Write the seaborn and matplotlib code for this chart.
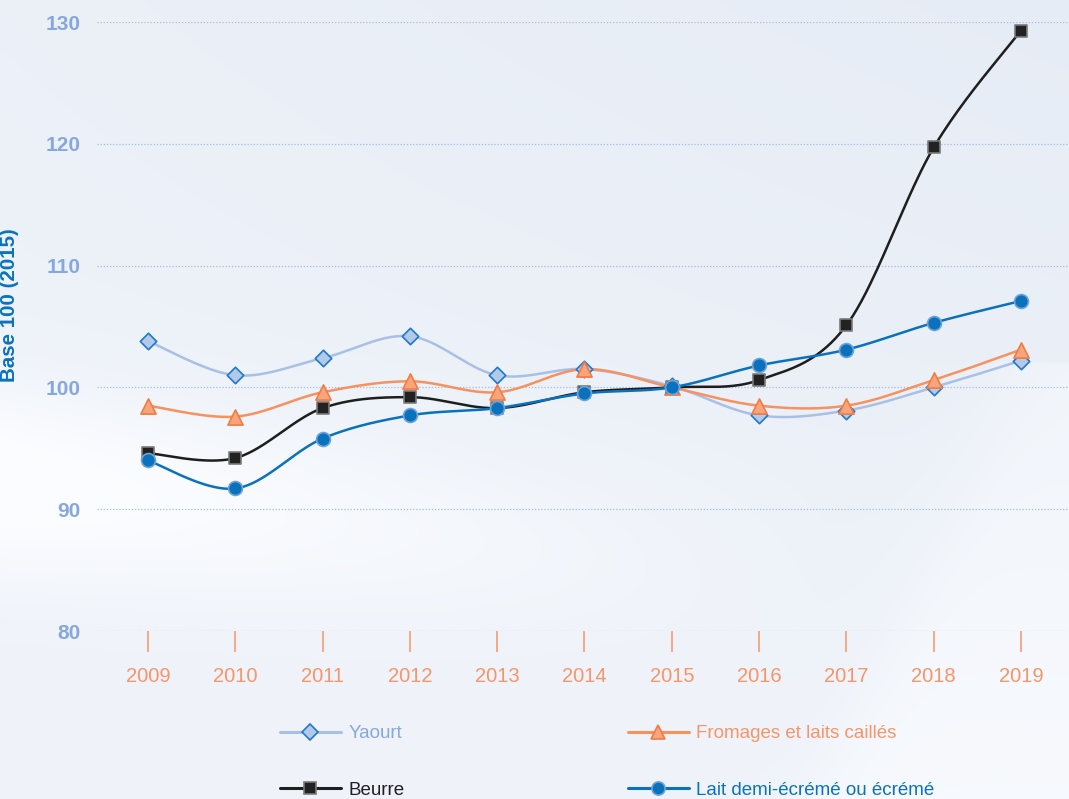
import numpy as np
import matplotlib
matplotlib.use("Agg")
import matplotlib.pyplot as plt
import seaborn as sns
from matplotlib.lines import Line2D

# Données (indice base 100 en 2015)
annees = [2009, 2010, 2011, 2012, 2013, 2014, 2015, 2016, 2017, 2018, 2019]
yaourt = [103.8, 101.0, 102.4, 104.2, 101.0, 101.5, 100.1, 97.7, 98.1, 100.0, 102.2]
fromages = [98.5, 97.6, 99.6, 100.5, 99.6, 101.5, 100.0, 98.5, 98.5, 100.6, 103.1]
beurre = [94.6, 94.2, 98.3, 99.2, 98.3, 99.6, 100.0, 100.6, 105.1, 119.7, 129.3]
lait = [94.0, 91.7, 95.8, 97.7, 98.3, 99.5, 100.0, 101.8, 103.1, 105.3, 107.1]
y_ticks = [80, 90, 100, 110, 120, 130]

sns.set_theme(style="white")
plt.rcParams['font.family'] = ['Liberation Sans', 'DejaVu Sans']


def lisser(x, y, n=40):
    # courbe lissée type Catmull-Rom passant par les points
    pts = np.column_stack([x, y]).astype(float)
    p = np.vstack([pts[0], pts, pts[-1]])
    t = np.linspace(0, 1, n, endpoint=False)[:, None]
    morceaux = []
    for i in range(1, len(p) - 2):
        p0, p1, p2, p3 = p[i - 1], p[i], p[i + 1], p[i + 2]
        seg = 0.5 * (2 * p1 + (-p0 + p2) * t + (2 * p0 - 5 * p1 + 4 * p2 - p3) * t ** 2
                     + (-p0 + 3 * p1 - 3 * p2 + p3) * t ** 3)
        morceaux.append(seg)
    morceaux.append(pts[-1][None])
    c = np.vstack(morceaux)
    return c[:, 0], c[:, 1]


fig = plt.figure(figsize=(10.69, 7.99), dpi=100)

# Fond dégradé
H, W = 200, 268
yy, xx = np.mgrid[0:H, 0:W]
xn, yn = xx / W, yy / H
base = np.array([0.875, 0.905, 0.950])
blanc = np.array([0.985, 0.99, 1.0])
w = 0.45 - 0.2 * xn * (1 - yn) + 0.15 * yn
w += 0.55 * np.exp(-((yn - 0.60 - 0.15 * xn) / 0.12) ** 2) * np.clip(1 - xn * 1.3, 0, 1)
bord = 0.78 + (0.95 - yn) * 0.35
w += 0.25 / (1 + np.exp(-(xn - bord) / 0.02)) * (yn > 0.45)
w = np.clip(w, 0, 1)[..., None]
img = base * (1 - w) + blanc * w
bg = fig.add_axes([0, 0, 1, 1], zorder=-1)
bg.imshow(img, aspect='auto', extent=[0, 1, 0, 1], interpolation='bicubic')
bg.axis('off')

ax = fig.add_axes([97 / 1069, 1 - 631 / 799, 972 / 1069, 609 / 799])
ax.set_facecolor('none')

series = [
    ("Yaourt", yaourt, '#a9c0e6', 'D', '#b3c9ea', '#1f78c8', 70, '#86a8dc'),
    ("Fromages et laits caillés", fromages, '#f7915e', '^', '#f9a47a', '#f07c45', 120, '#f4956a'),
    ("Beurre", beurre, '#1e1e1e', 's', '#222222', '#7a7a7a', 75, '#231f20'),
    ("Lait demi-écrémé ou écrémé", lait, '#0a72bd', 'o', '#0a72bd', '#6fa3d8', 100, '#0a72bd'),
]

poignees = {}
for nom, vals, c_ligne, mk, c_face, c_bord, taille, c_txt in series:
    xs, ys = lisser(annees, vals)
    sns.lineplot(x=xs, y=ys, sort=False, estimator=None, color=c_ligne, lw=1.8,
                 ax=ax, legend=False, zorder=2)
    sns.scatterplot(x=annees, y=vals, marker=mk, s=taille, color=c_face,
                    edgecolor=c_bord, linewidth=1.2, ax=ax, legend=False, zorder=3,
                    clip_on=False)
    poignees[nom] = (Line2D([], [], color=c_ligne, lw=2.2, marker=mk, markersize=np.sqrt(taille) * 0.95,
                            markerfacecolor=c_face, markeredgecolor=c_bord, markeredgewidth=1.2), c_txt)

ax.set_xlim(2008.416, 2019.55)
ax.set_ylim(80, 130)
ax.set_yticks(y_ticks)
ax.set_xticks(annees)
ax.set_xticklabels([str(a) for a in annees])
for y in y_ticks:
    ax.axhline(y, color='#9fbfdc', lw=0.9, ls=(0, (1, 1.5)), zorder=1)
for s in ax.spines.values():
    s.set_visible(False)
ax.grid(False)

ax.tick_params(axis='x', colors='#f4956a', length=15, width=1.1, direction='out', pad=11,
               labelsize=14.5, bottom=True)
ax.tick_params(axis='y', length=0, pad=12, labelsize=15, labelcolor='#86a8dc')
for lab in ax.get_yticklabels():
    lab.set_fontweight('bold')

ax.set_ylabel('Base 100 (2015)', color='#0a72bd', fontsize=14.8, fontweight='bold')
ax.yaxis.set_label_coords((19 - 97) / 972, (631 - 305) / 609)

ordre = ["Yaourt", "Beurre", "Fromages et laits caillés", "Lait demi-écrémé ou écrémé"]
leg = fig.legend([poignees[n][0] for n in ordre], ordre, loc='upper left',
                 bbox_to_anchor=(280 / 1069, 1 - 725 / 799), ncol=2, frameon=False,
                 fontsize=13.5, handlelength=3.25, handletextpad=0.4, columnspacing=11.9,
                 labelspacing=2.1, borderpad=0, borderaxespad=0)
for txt, n in zip(leg.get_texts(), ordre):
    txt.set_color(poignees[n][1])

fig.savefig('out.png', dpi=100)
